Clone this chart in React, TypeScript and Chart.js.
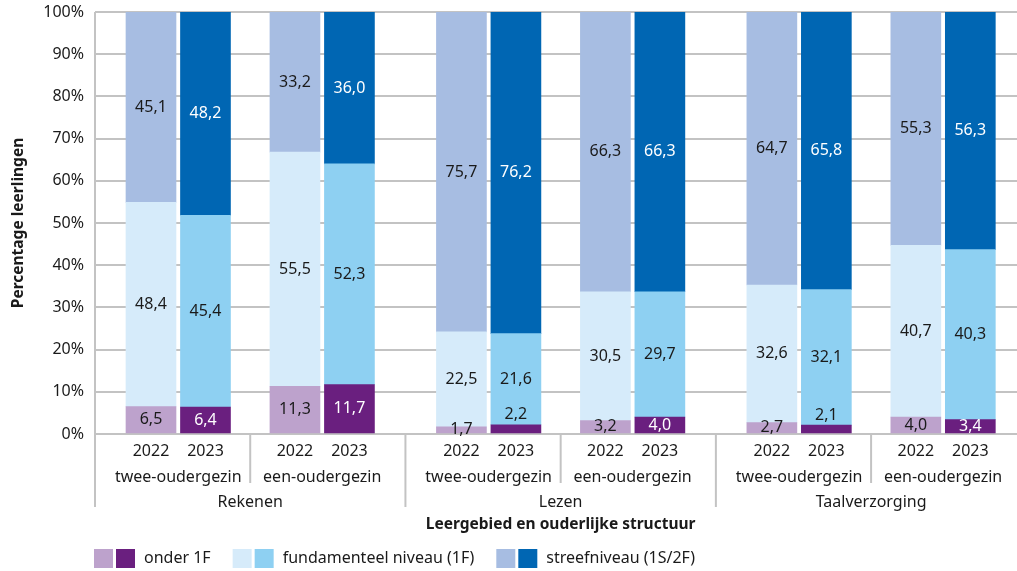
import React, { useEffect, useRef } from 'react';
import { Chart, registerables } from 'chart.js';

Chart.register(...registerables);

// ---- data ----
const majorGroups = ['Rekenen', 'Lezen', 'Taalverzorging'];
const minorGroups = ['twee-oudergezin', 'een-oudergezin'];
const years = ['2022', '2023'];
const levels = ['onder 1F', 'fundamenteel niveau (1F)', 'streefniveau (1S/2F)'];
// bar groups in order: Rekenen twee, Rekenen een, Lezen twee, Lezen een, Taalverzorging twee, Taalverzorging een
const onder1F2022 = [6.5, 11.3, 1.7, 3.2, 2.7, 4.0];
const onder1F2023 = [6.4, 11.7, 2.2, 4.0, 2.1, 3.4];
const fundamenteel2022 = [48.4, 55.5, 22.5, 30.5, 32.6, 40.7];
const fundamenteel2023 = [45.4, 52.3, 21.6, 29.7, 32.1, 40.3];
const streef2022 = [45.1, 33.2, 75.7, 66.3, 64.7, 55.3];
const streef2023 = [48.2, 36.0, 76.2, 66.3, 65.8, 56.3];
const yTickValues = [0, 10, 20, 30, 40, 50, 60, 70, 80, 90, 100];

// ---- styles ----
const FONT = '"Noto Sans", "Open Sans", sans-serif';
const TEXT = '#1a1a1a';
const GRID = '#C3C3C3';
const colors2022 = ['#BDA2CC', '#D6EBFA', '#A7BDE2'];
const colors2023 = ['#6A1F7F', '#8ED0F2', '#0066B3'];
const labelColors2022 = [TEXT, TEXT, TEXT];
const labelColors2023 = ['#ffffff', TEXT, '#ffffff'];

const MINOR_STEP = 0.9275;
const YEAR_STEP = 0.351;
const groupCount = minorGroups.length * majorGroups.length;
const xPos = (g: number, yi: number) =>
  Math.floor(g / minorGroups.length) * 2 + 1 + (g % 2 ? 0.5 : -0.5) * MINOR_STEP + (yi ? 0.5 : -0.5) * YEAR_STEP;

const values2022 = [onder1F2022, fundamenteel2022, streef2022];
const values2023 = [onder1F2023, fundamenteel2023, streef2023];

const fmt = (v: number) => v.toFixed(1).replace('.', ',');

const axisPlugin = {
  id: 'customAxis',
  afterDraw(chart: any) {
    const ctx = chart.ctx;
    const xs = chart.scales.x;
    const area = chart.chartArea;
    ctx.save();
    // left axis line + separators
    ctx.strokeStyle = GRID;
    ctx.lineWidth = 2;
    for (let i = 0; i <= groupCount; i++) {
      const px = xs.getPixelForValue(i);
      if (px > chart.width + 1) continue;
      const isMajor = i % 2 === 0;
      ctx.beginPath();
      ctx.moveTo(px, i === 0 ? area.top : area.bottom);
      ctx.lineTo(px, isMajor ? 507 : 483);
      ctx.stroke();
    }
    ctx.fillStyle = TEXT;
    ctx.textAlign = 'center';
    ctx.textBaseline = 'middle';
    ctx.font = `16px ${FONT}`;
    for (let g = 0; g < groupCount; g++) {
      years.forEach((yr, yi) => {
        ctx.fillText(yr, xs.getPixelForValue(xPos(g, yi)), 451);
      });
      const cx = (xs.getPixelForValue(xPos(g, 0)) + xs.getPixelForValue(xPos(g, 1))) / 2;
      ctx.fillText(minorGroups[g % minorGroups.length], cx, 477);
    }
    majorGroups.forEach((m, mi) => {
      ctx.fillText(m, xs.getPixelForValue(mi * 2 + 1), 502);
    });
    // axis titles
    ctx.font = `bold 15.5px ${FONT}`;
    ctx.fillText('Leergebied en ouderlijke structuur', xs.getPixelForValue(3), 525);
    ctx.save();
    ctx.translate(19, (area.top + area.bottom) / 2);
    ctx.rotate(-Math.PI / 2);
    ctx.fillText('Percentage leerlingen', 0, 0);
    ctx.restore();
    // legend
    ctx.font = `16px ${FONT}`;
    ctx.textAlign = 'left';
    let lx = 94;
    const ly = 558.5;
    levels.forEach((lab, li) => {
      ctx.fillStyle = colors2022[li];
      ctx.fillRect(lx, ly - 9.5, 19, 19);
      ctx.fillStyle = colors2023[li];
      ctx.fillRect(lx + 22, ly - 9.5, 19, 19);
      ctx.fillStyle = TEXT;
      ctx.fillText(lab, lx + 50, ly);
      lx += 50 + ctx.measureText(lab).width + 22;
    });
    ctx.restore();
  },
};

const labelPlugin = {
  id: 'segmentLabels',
  afterDatasetsDraw(chart: any) {
    const ctx = chart.ctx;
    ctx.save();
    ctx.font = `16px ${FONT}`;
    ctx.textAlign = 'center';
    ctx.textBaseline = 'middle';
    chart.data.datasets.forEach((ds: any, di: number) => {
      const meta = chart.getDatasetMeta(di);
      meta.data.forEach((bar: any, i: number) => {
        const v = ds.data[i].y;
        const p = bar.getProps(['x', 'y', 'base'], true);
        let ty = (p.y + p.base) / 2;
        let color = ds.labelColor;
        if (ds.smallAbove && v < 3) {
          ty = p.y - 10;
          color = TEXT;
        }
        ctx.fillStyle = color;
        ctx.fillText(fmt(v), p.x, ty);
      });
    });
    ctx.restore();
  },
};

export default function App() {
  const ref = useRef<HTMLCanvasElement | null>(null);
  useEffect(() => {
    if (!ref.current) return;
    const datasets: any[] = [];
    levels.forEach((lab, li) => {
      [values2022, values2023].forEach((vals, yi) => {
        datasets.push({
          label: `${lab} ${years[yi]}`,
          data: vals[li].map((v, g) => ({ x: xPos(g, yi), y: v })),
          backgroundColor: yi ? colors2023[li] : colors2022[li],
          borderWidth: 0,
          barThickness: 50,
          labelColor: yi ? labelColors2023[li] : labelColors2022[li],
          smallAbove: yi === 1 && li === 0,
        });
      });
    });
    const chart = new Chart(ref.current, {
      type: 'bar',
      data: { datasets },
      options: {
        animation: false,
        responsive: false,
        layout: { padding: { top: 12, bottom: 137, left: 0, right: 0 } },
        plugins: { legend: { display: false }, tooltip: { enabled: false } },
        scales: {
          x: {
            type: 'linear',
            display: false,
            stacked: true,
            offset: false,
            min: 0,
            max: 5.94,
            ticks: { stepSize: 1 },
            grid: { offset: false },
          },
          y: {
            stacked: true,
            min: 0,
            max: 100,
            afterFit: (s: any) => {
              s.width = 95;
              s.paddingTop = 0;
              s.paddingBottom = 0;
            },
            afterBuildTicks: (s: any) => {
              s.ticks = yTickValues.map((v) => ({ value: v }));
            },
            ticks: {
              callback: (v: any) => `${v}%`,
              font: { family: FONT, size: 16 },
              color: TEXT,
              padding: 11,
            },
            grid: { color: GRID, lineWidth: 2, drawTicks: false },
            border: { display: false },
          },
        },
      },
      plugins: [labelPlugin, axisPlugin],
    } as any);
    return () => chart.destroy();
  }, []);
  return (
    <div style={{ position: 'fixed', left: 0, top: 0, width: 1017, height: 571, background: '#fff' }}>
      <canvas ref={ref} width={1017} height={571} style={{ display: 'block' }} />
    </div>
  );
}
